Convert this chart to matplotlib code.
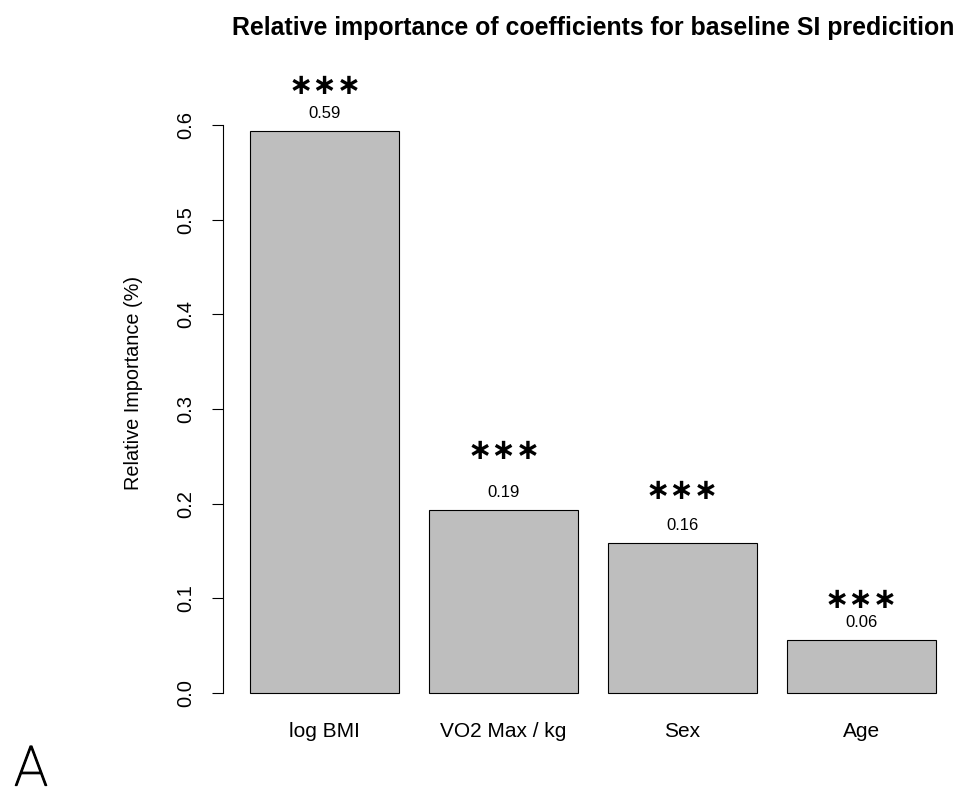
import matplotlib
matplotlib.use("Agg")
import matplotlib.pyplot as plt
import matplotlib.patheffects as pe

# data
labels = ["log BMI", "VO2 Max / kg", "Sex", "Age"]
importance = [0.5937, 0.1933, 0.1585, 0.0560]
value_text = ["0.59", "0.19", "0.16", "0.06"]
stars = ["\u2217\u2217\u2217"] * 4
star_height = [0.644, 0.259, 0.217, 0.101]
yticks = [0.0, 0.1, 0.2, 0.3, 0.4, 0.5, 0.6]

plt.rcParams['font.family'] = ['Liberation Sans', 'DejaVu Sans']

fig = plt.figure(figsize=(9.63, 7.91), dpi=100)
ax = fig.add_axes([223 / 963, 0.0956, 1 - 223 / 963, 0.7674])

# R barplot layout: width 1, space 0.2
xs = [0.2 + 1.2 * i + 0.5 for i in range(len(labels))]
ax.bar(xs, importance, width=1.0, color="#BEBEBE", edgecolor="black", linewidth=0.8)

for x, v, t in zip(xs, importance, value_text):
    ax.text(x, v + 0.0185, t, ha="center", va="center", fontsize=12, clip_on=False)
for x, h, s in zip(xs, star_height, stars):
    ax.text(x, h, s, ha="center", va="center_baseline", fontsize=21,
            family=["DejaVu Sans"], fontweight="bold", clip_on=False)

ax.set_xlim(0.016, 4.984)
ax.set_ylim(-0.0237, 0.6175)
for side in ["top", "right", "bottom"]:
    ax.spines[side].set_visible(False)
ax.spines["left"].set_bounds(0, 0.6)
ax.spines["left"].set_linewidth(0.8)
ax.set_yticks(yticks)
ax.set_yticklabels(["%.1f" % t for t in yticks], rotation=90, va="center", fontsize=14.5)
ax.tick_params(axis="y", length=8, width=0.8, pad=12)
ax.set_xticks(xs)
ax.set_xticklabels(labels, fontsize=15)
ax.tick_params(axis="x", length=0, pad=5)

fig.text(133 / 963, 1 - 383 / 791, "Relative Importance (%)", rotation=90,
         ha="center", va="center", fontsize=14.3)
fig.text(593.5 / 963, 1 - 28 / 791, "Relative importance of coefficients for baseline SI predicition",
         ha="center", va="center", fontsize=17.9, fontweight="bold")
fig.text(31 / 963, 1 - 770 / 791, "A", ha="center", va="center", fontsize=40,
         family=["Roboto", "DejaVu Sans"], fontweight="light",
         path_effects=[pe.withStroke(linewidth=0.9, foreground="black")])

fig.savefig("out.png", dpi=100)
